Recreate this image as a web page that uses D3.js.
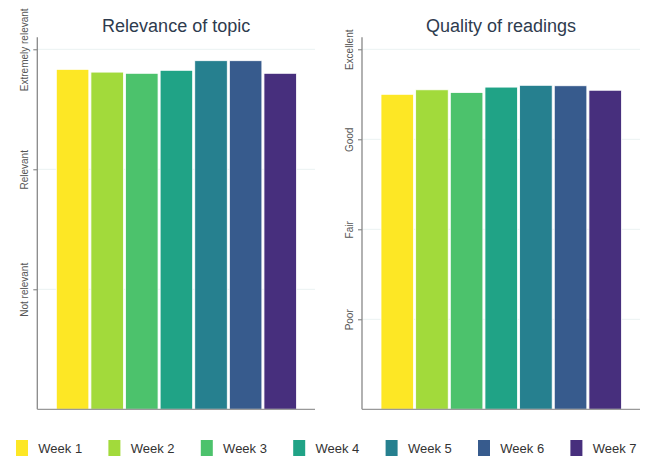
<!DOCTYPE html>
<html>
<head>
<meta charset="utf-8">
<script src="https://cdn.jsdelivr.net/npm/d3@7"></script>
<style>
  body { margin: 0; background: #fff; }
  text { font-family: "Liberation Sans", Arial, sans-serif; }
</style>
</head>
<body>
<div id="chart"></div>
<script>
// weeks and colours
var weeks = ["Week 1", "Week 2", "Week 3", "Week 4", "Week 5", "Week 6", "Week 7"];
var colors = ["#fde725", "#a2da3b", "#4cc26c", "#20a386", "#26808f", "#375b8d", "#472f7d"];

// mean ratings (1 = lowest label)
var relevance = [2.833, 2.81, 2.80, 2.825, 2.905, 2.905, 2.80];
var quality = [3.50, 3.55, 3.52, 3.58, 3.60, 3.595, 3.545];

var relevanceLabels = ["Not relevant", "Relevant", "Extremely relevant"];
var qualityLabels = ["Poor", "Fair", "Good", "Excellent"];

var w = 651, h = 460;
var top_ = 37.3, bottom = 409.3;

var svg = d3.select("#chart").append("svg")
  .attr("width", w)
  .attr("height", h);

function panel(x0, x1, title, values, labels, yMax) {
  var g = svg.append("g");

  var yScale = d3.scaleLinear()
    .domain([0, yMax])
    .range([bottom, top_]);

  var xScale = d3.scaleBand()
    .domain(weeks)
    .range([x0 + 19, x1 - 18.5])
    .paddingInner(0.06);

  var ticks = labels.map(function(d, i) { return i + 1; });

  // gridlines
  g.selectAll(".grid")
    .data(ticks)
    .enter().append("line")
    .attr("x1", x0)
    .attr("x2", x1)
    .attr("y1", function(d) { return yScale(d); })
    .attr("y2", function(d) { return yScale(d); })
    .style("stroke", "#eaf2f2")
    .style("stroke-width", 1);

  // bars
  g.selectAll(".bar")
    .data(values)
    .enter().append("rect")
    .attr("x", function(d, i) { return xScale(weeks[i]); })
    .attr("y", function(d) { return yScale(d); })
    .attr("width", xScale.bandwidth())
    .attr("height", function(d) { return yScale(0) - yScale(d); })
    .style("fill", function(d, i) { return colors[i]; })
    .style("stroke", "#fff")
    .style("stroke-width", 0.8);

  // y axis
  var yAxis = d3.axisLeft(yScale)
    .tickValues(ticks)
    .tickSize(4)
    .tickFormat(function(d) { return labels[d - 1]; });

  var ag = g.append("g")
    .attr("transform", "translate(" + x0 + ",0)")
    .call(yAxis);
  ag.select(".domain").remove();
  ag.selectAll(".tick line").style("stroke", "#777");
  ag.selectAll(".tick text")
    .attr("transform", "rotate(-90)")
    .attr("x", 0)
    .attr("y", -9.5)
    .attr("dy", "0")
    .style("text-anchor", "middle")
    .style("font-size", "10px")
    .style("fill", "#555");

  g.append("line")
    .attr("x1", x0).attr("x2", x0)
    .attr("y1", top_).attr("y2", bottom)
    .style("stroke", "#888").style("stroke-width", 1.3);
  g.append("line")
    .attr("x1", x0).attr("x2", x1)
    .attr("y1", bottom).attr("y2", bottom)
    .style("stroke", "#999").style("stroke-width", 1.3);

  g.append("text")
    .attr("x", (x0 + x1) / 2)
    .attr("y", 32)
    .style("text-anchor", "middle")
    .style("font-size", "18px")
    .style("fill", "#2e3b4e")
    .text(title);
}

panel(37.3, 315, "Relevance of topic", relevance, relevanceLabels, 3.1);
panel(362, 640, "Quality of readings", quality, qualityLabels, 4.1333);

// legend
var legend = svg.selectAll(".legend")
  .data(weeks)
  .enter().append("g")
  .attr("class", "legend")
  .attr("transform", function(d, i) { return "translate(" + (16 + i * 92.4) + ",440)"; });

legend.append("rect")
  .attr("width", 12)
  .attr("height", 16)
  .style("fill", function(d, i) { return colors[i]; });

legend.append("text")
  .attr("x", 22.3)
  .attr("y", 8.3)
  .attr("dy", ".35em")
  .style("font-size", "13px")
  .style("fill", "#333")
  .text(function(d) { return d; });
</script>
</body>
</html>
